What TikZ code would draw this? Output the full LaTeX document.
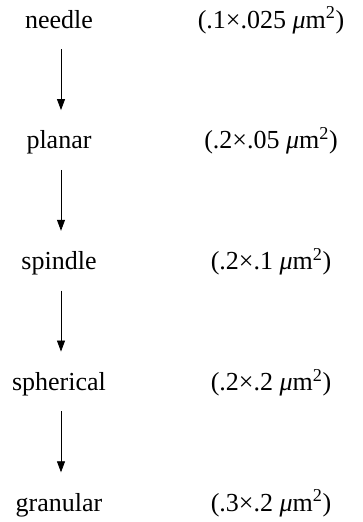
\documentclass[tikz,border=0pt]{standalone}
\usepackage{fontspec}
\newfontfamily\tms{Liberation Serif}
\usetikzlibrary{arrows.meta}
\begin{document}
\begin{tikzpicture}[x=1pt,y=-1pt,
  lbl/.style={anchor=base,inner sep=0pt,text height=17pt,text depth=0pt,font=\tms\fontsize{26}{30}\selectfont},
  flow/.style={-{Triangle[length=11pt,width=8pt]},line width=0.8pt,shorten <=21pt,shorten >=21.5pt}]
\useasboundingbox (0,0) rectangle (362,522);
\node[lbl] (n1) at (59,28) {needle};
\node[lbl] (n2) at (59,148.75) {planar};
\node[lbl] (n3) at (59,269.5) {spindle};
\node[lbl] (n4) at (59,390.25) {spherical};
\node[lbl] (n5) at (59,511) {granular};
\node[lbl] (s1) at (271,28) {(.1×.025 \textit{μ}m\textsuperscript{2})};
\node[lbl] (s2) at (271,148.75) {(.2×.05 \textit{μ}m\textsuperscript{2})};
\node[lbl] (s3) at (271,269.5) {(.2×.1 \textit{μ}m\textsuperscript{2})};
\node[lbl] (s4) at (271,390.25) {(.2×.2 \textit{μ}m\textsuperscript{2})};
\node[lbl] (s5) at (271,511) {(.3×.2 \textit{μ}m\textsuperscript{2})};
\draw[flow] (n1.south -| 61,0) -- (n2.north -| 61,0);
\draw[flow] (n2.south -| 61,0) -- (n3.north -| 61,0);
\draw[flow] (n3.south -| 61,0) -- (n4.north -| 61,0);
\draw[flow] (n4.south -| 61,0) -- (n5.north -| 61,0);
\end{tikzpicture}
\end{document}
